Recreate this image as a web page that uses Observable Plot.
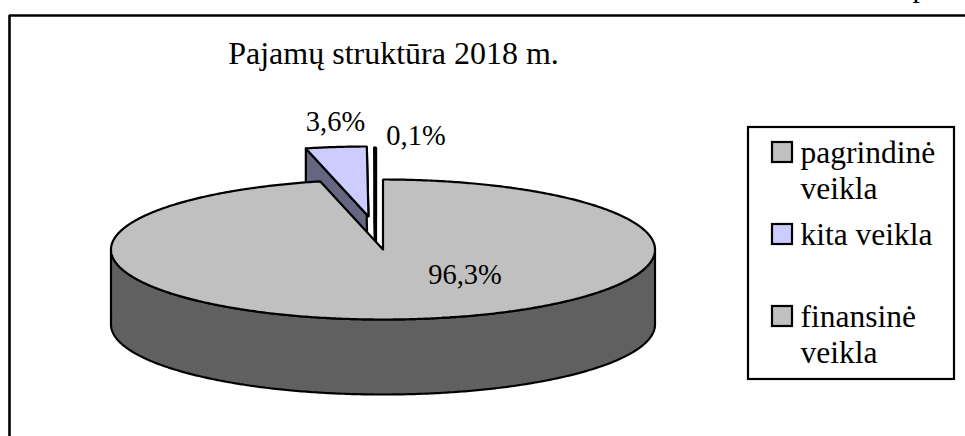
<!DOCTYPE html>
<html>
<head>
<meta charset="utf-8">
<script src="https://cdn.jsdelivr.net/npm/d3@7"></script>
<script src="https://cdn.jsdelivr.net/npm/@observablehq/plot@0.6"></script>
<style>
html,body{margin:0;padding:0;background:#fff;overflow:hidden}
svg{display:block}
</style>
</head>
<body>
<div id="chart"></div>
<script>
const titleText = "Pajamų struktūra 2018 m.";
const categories = ["pagrindinė veikla", "kita veikla", "finansinė veikla"];
const legendLabels = ["pagrindinė\nveikla", "kita veikla", "finansinė\nveikla"];
const shares = [96.3, 3.6, 0.1];
const shareLabels = ["96,3%", "3,6%", "0,1%"];
const faceColors = ["#c0c0c0", "#ccccff", "#c0c0c0"];
const sideColors = ["#606060", "#666680", "#606060"];

// layout
const W = 965, H = 436;
const cx = 382.5, cy = 249, rx = 272, ry = 70, depth = 75;
const explodeX = [0, -14.5, -7], explodeY = [0, -33, -32];
const labelX = [464.5, 335, 415.5], labelY = [283, 130, 144];
const legendRowY = [142, 224, 306];
const serif = "'Liberation Serif','Times New Roman',serif";

// cumulative angles (radians, clockwise from 12 o'clock)
const total = d3.sum(shares);
let acc = 0;
const slices = shares.map((v, i) => {
  const a0 = acc / total * 2 * Math.PI;
  acc += v;
  const a1 = acc / total * 2 * Math.PI;
  return {i, a0, a1, ax: cx + explodeX[i], ay: cy + explodeY[i]};
});
const rimPoint = (s, a, dy = 0) => ({x: s.ax + rx * Math.sin(a), y: s.ay - ry * Math.cos(a) + dy});
const arc = (s, a0, a1, dy = 0) => {
  const n = Math.max(2, Math.ceil(Math.abs(a1 - a0) / 0.01));
  return d3.range(n + 1).map(k => rimPoint(s, a0 + (a1 - a0) * k / n, dy));
};
const face = s => {
  const apex = {x: s.ax, y: s.ay};
  return [apex, ...arc(s, s.a0, s.a1), apex];
};
const wedgeSide = s => {
  const a = rimPoint(s, s.a0), b = {x: s.ax, y: s.ay}, c = rimPoint(s, s.a1);
  return [a, b, c, {x: c.x, y: c.y + depth}, {x: b.x, y: b.y + depth}, {x: a.x, y: a.y + depth}, a];
};
const rimSide = s => {
  const top = arc(s, Math.PI / 2, 3 * Math.PI / 2);
  const low = arc(s, 3 * Math.PI / 2, Math.PI / 2, depth);
  return [...top, ...low, top[0]];
};
const poly = (pts, fill) => Plot.line(pts, {x: "x", y: "y", fill, stroke: "black", strokeWidth: 2.2, strokeLinejoin: "miter", curve: "linear"});

const [main, kita, fin] = slices;
const legendData = categories.map((c, i) => ({c, i, label: legendLabels[i], y: legendRowY[i]}));

const plot = Plot.plot({
  width: W, height: H,
  margin: 0,
  x: {domain: [0, W], range: [0, W], axis: null},
  y: {domain: [0, H], range: [0, H], axis: null},
  color: {domain: categories, range: faceColors},
  style: {background: "#fff", fontFamily: serif},
  marks: [
    Plot.ruleX([9], {y1: 15, y2: H, stroke: "black", strokeWidth: 2.6}),
    Plot.ruleY([15], {x1: 9, x2: W, stroke: "black", strokeWidth: 2.6}),
    Plot.text(["p"], {x: 919.5, y: -3.5, fontSize: 30, fill: "black", textAnchor: "middle", lineAnchor: "bottom", fontFamily: serif}),
    Plot.text([titleText], {x: 393, y: 63, fontSize: 32, fill: "black", textAnchor: "middle", lineAnchor: "bottom", fontFamily: serif}),

    poly(wedgeSide(fin), sideColors[2]),
    poly(wedgeSide(kita), sideColors[1]),
    poly(face(kita), faceColors[1]),
    poly(face(fin), faceColors[2]),
    poly(rimSide(main), sideColors[0]),
    poly(face(main), faceColors[0]),

    Plot.text(shareLabels, {x: (d, i) => labelX[i], y: (d, i) => labelY[i], fontSize: 28.5, fill: "black", textAnchor: "middle", lineAnchor: "bottom", fontFamily: serif}),

    Plot.rect([0], {x1: 748, x2: 954, y1: 127, y2: 379, fill: "white", stroke: "black", strokeWidth: 2.2}),
    Plot.rect(legendData, {x1: 772, x2: 792, y1: "y", y2: d => d.y + 20, fill: "c", stroke: "black", strokeWidth: 2.2}),
    Plot.text(legendData, {x: 800, y: d => d.y - 4.6, text: "label", fontSize: 31.5, lineHeight: 1.143, fill: "black", textAnchor: "start", lineAnchor: "top", fontFamily: serif})
  ]
});
document.getElementById("chart").append(plot);
</script>
</body>
</html>
